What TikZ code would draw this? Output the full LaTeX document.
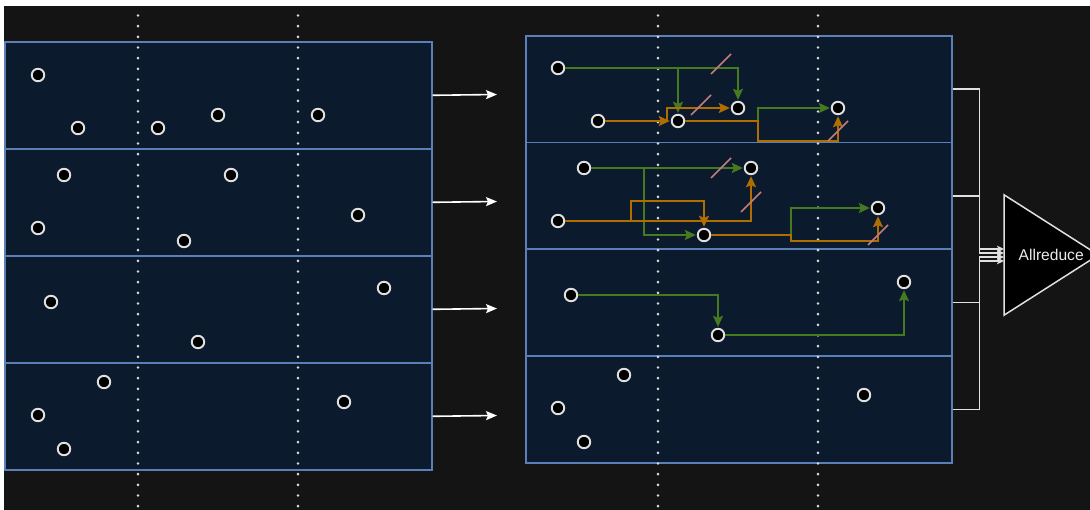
\documentclass[tikz,border=0pt]{standalone}
\usepackage{fontspec}
\setmainfont{Liberation Sans}
\usetikzlibrary{arrows.meta,calc,backgrounds}

\definecolor{pagebg}{HTML}{141414}
\definecolor{panelfill}{HTML}{0C1A2D}
\definecolor{panelline}{HTML}{5B7FB6}
\definecolor{linkgreen}{HTML}{467A1E}
\definecolor{linkorange}{HTML}{B06E00}
\definecolor{cutpink}{HTML}{C47B7B}
\definecolor{dotgray}{HTML}{DADADA}
\definecolor{ringgray}{HTML}{E0E0E0}

\tikzset{
  panelrow/.style={draw=panelline, fill=panelfill, line width=1.6pt,
    minimum width=427pt, minimum height=107pt, inner sep=0pt, anchor=north west},
  panelrowR/.style={panelrow, minimum width=426pt, minimum height=106.75pt},
  dotline/.style={dotgray, line width=2.9pt, line cap=round,
    dash pattern=on 0pt off 10.667pt},
  vtx/.style={circle, draw=ringgray, fill=black, line width=1.9pt,
    minimum size=12.5pt, inner sep=0pt},
  flow/.style={draw=white, line width=1.6pt,
    -{Stealth[length=11pt,width=9pt,inset=2pt]}},
  gl/.style={draw=linkgreen, line width=1.6pt, shorten >=1pt,
    -{Stealth[length=11pt,width=10pt,inset=2pt]}},
  ol/.style={draw=linkorange, line width=1.8pt, shorten >=1pt,
    -{Stealth[length=11pt,width=10pt,inset=2pt]}},
  cut/.style={draw=cutpink, line width=1.7pt},
  feed/.style={draw=ringgray, line width=1.5pt,
    -{Stealth[length=7pt,width=6.5pt,inset=1.5pt]}},
  arbox/.style={minimum width=94pt, minimum height=120pt, inner sep=0pt,
    anchor=west, text=white!92!black, font=\fontsize{15.6}{18}\selectfont},
  arshape/.style={fill=black, draw=ringgray, line width=1.5pt, line join=miter}
}

\begin{document}
\begin{tikzpicture}[x=1pt,y=-1pt]
\useasboundingbox (0,0) rectangle (1090,510);
\begin{scope}[on background layer]
  \fill[white] (0,0) rectangle (1090,510);
  \fill[pagebg] (4,6) rectangle (1090,510);
\end{scope}

% row blocks, before and after the exchange
\node[panelrow] (L1) at (4,41) {};
\node[panelrow] (L2) at (4,148) {};
\node[panelrow] (L3) at (4,255) {};
\node[panelrow] (L4) at (4,362) {};
\node[panelrowR] (R1) at (525,35) {};
\node[panelrowR] (R2) at (525,141.75) {};
\node[panelrowR] (R3) at (525,248.5) {};
\node[panelrowR] (R4) at (525,355.25) {};

% column boundaries
\foreach \x in {138,298,658,818}
  \draw[dotline] (\x,15.5) -- (\x,515);

% points, left block
\node[vtx] (l1a) at (38,75) {};
\node[vtx] (l1b) at (78,128) {};
\node[vtx] (l1c) at (158,128) {};
\node[vtx] (l1d) at (218,115) {};
\node[vtx] (l1e) at (318,115) {};
\node[vtx] (l2a) at (64,175) {};
\node[vtx] (l2b) at (231,175) {};
\node[vtx] (l2c) at (38,228) {};
\node[vtx] (l2d) at (184,241) {};
\node[vtx] (l2e) at (358,215) {};
\node[vtx] (l3a) at (51,302) {};
\node[vtx] (l3b) at (384,288) {};
\node[vtx] (l3c) at (198,342) {};
\node[vtx] (l4a) at (104,382) {};
\node[vtx] (l4b) at (38,415) {};
\node[vtx] (l4c) at (64,449) {};
\node[vtx] (l4d) at (344,402) {};

% row-to-row hand-off
\coordinate (h1) at (497,94.5);
\coordinate (h2) at (497,201.5);
\coordinate (h3) at (497,308.5);
\coordinate (h4) at (497,415.5);
\draw[flow] (L1.east) -- (h1);
\draw[flow] (L2.east) -- (h2);
\draw[flow] (L3.east) -- (h3);
\draw[flow] (L4.east) -- (h4);

% points, right block
\node[vtx] (r1a) at (558,68) {};
\node[vtx] (r1b) at (598,121) {};
\node[vtx] (r1c) at (678,121) {};
\node[vtx] (r1d) at (738,108) {};
\node[vtx] (r1e) at (838,108) {};
\node[vtx] (r2a) at (584,168) {};
\node[vtx] (r2b) at (751,168) {};
\node[vtx] (r2c) at (558,221) {};
\node[vtx] (r2d) at (704,235) {};
\node[vtx] (r2e) at (878,208) {};
\node[vtx] (r3a) at (571,295) {};
\node[vtx] (r3b) at (904,282) {};
\node[vtx] (r3c) at (718,335) {};
\node[vtx] (r4a) at (624,375) {};
\node[vtx] (r4b) at (558,408) {};
\node[vtx] (r4c) at (584,442) {};
\node[vtx] (r4d) at (864,395) {};

% links, first row
\draw[gl] (r1a) -| (r1c);
\draw[gl] (r1a) -| (r1d);
\draw[gl] (r1c) -- (758,121) |- (r1e);
\draw[ol] (r1b) -- (r1c);
\draw[ol] (r1b) -- (667,121) |- (r1d);
\draw[ol] (r1c) -- (758,121) -- (758,141) -| (r1e);

% links, second row
\draw[gl] (r2a) -- (r2b);
\draw[gl] (r2a) -- (644,168) |- (r2d);
\draw[gl] (r2d) -- (791,235) |- (r2e);
\draw[ol] (r2c) -| (r2b);
\draw[ol] (r2c) -- (631,221) -- (631,201) -| (r2d);
\draw[ol] (r2d) -- (791,235) -- (791,241) -| (r2e);

% links, third row
\draw[gl] (r3a) -| (r3c);
\draw[gl] (r3c) -| (r3b);

% pruned links
\coordinate (k1) at (721,64);
\coordinate (k2) at (701,105);
\coordinate (k3) at (838,131);
\coordinate (k4) at (721,168);
\coordinate (k5) at (751,202);
\coordinate (k6) at (878,235);
\foreach \k in {k1,k2,k3,k4,k5,k6}
  \draw[cut] (\k) +(-10,10) -- +(10,-10);

% reduction stage
\node[arbox] (ar) at (1004,255) {Allreduce};
\begin{scope}[on background layer]
  \filldraw[arshape] (ar.north west) -- (ar.east) -- (ar.south west) -- cycle;
\end{scope}
\coordinate (in1) at ($(ar.west)+(0,-6)$);
\coordinate (in2) at ($(ar.west)+(0,-2)$);
\coordinate (in3) at ($(ar.west)+(0,2)$);
\coordinate (in4) at ($(ar.west)+(0,6)$);
\draw[feed] (R1.east) -- ++(27,0) |- (in1);
\draw[feed] (R2.east) -- ++(27,0) |- (in2);
\draw[feed] (R3.east) -- ++(27,0) |- (in3);
\draw[feed] (R4.east) -- ++(27,0) |- (in4);
\end{tikzpicture}
\end{document}
